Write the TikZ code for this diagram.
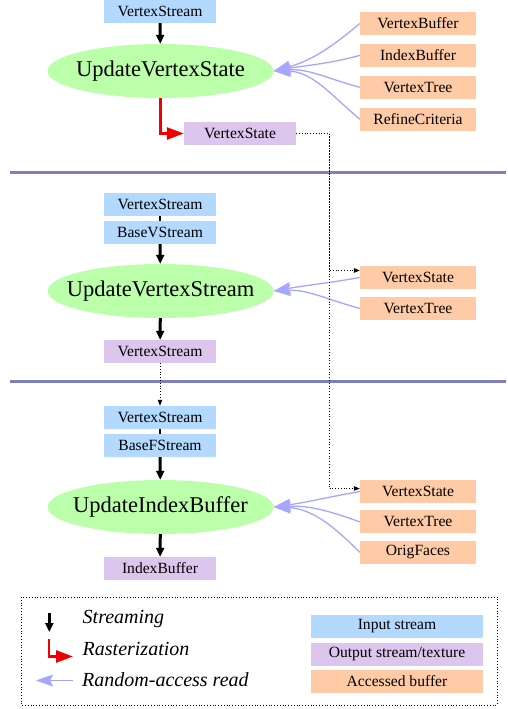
\documentclass[tikz,border=0pt]{standalone}
\usepackage{fontspec}
\setmainfont{Liberation Serif}
\usepackage{tikz}
\usetikzlibrary{arrows.meta, positioning, shapes.geometric}

\definecolor{inblue}{HTML}{B3D9FF}
\definecolor{outlilac}{HTML}{DDC6EE}
\definecolor{bufpeach}{HTML}{FFCBA6}
\definecolor{kgreen}{HTML}{BBFFAA}
\definecolor{sepblue}{HTML}{7F7FBF}
\definecolor{accblue}{HTML}{A6A6FF}
\definecolor{rasred}{HTML}{EE0000}

% kernel name, kept from widening the ellipse
\newcommand{\kname}[1]{\makebox[0pt]{#1}}

\begin{document}
\begin{tikzpicture}[
        x=1pt, y=1pt,
        node distance=8.5pt,
        every node/.style={inner sep=0pt, font=\fontsize{15.6}{18}\selectfont},
        box/.style={minimum width=112pt, minimum height=23pt},
        input/.style={box, fill=inblue},
        output/.style={box, fill=outlilac},
        buffer/.style={box, minimum width=116pt, fill=bufpeach},
        legbox/.style={box, minimum width=172pt},
        kernel/.style={ellipse, fill=kgreen, minimum width=226pt, minimum height=54pt, font=\fontsize{22.5}{26}\selectfont},
        legtext/.style={anchor=base west, font=\fontsize{20}{24}\selectfont\itshape},
        stream/.style={-{Triangle[length=9pt,width=8pt]}, line width=3pt},
        stack/.style={line width=2pt},
        raster/.style={-{Triangle[length=17pt,width=12pt]}, line width=2.5pt, rasred},
        access/.style={-{Stealth[length=17pt,width=12pt,inset=3pt]}, line width=1.3pt, accblue},
        link/.style={-{Triangle[length=6pt,width=4.5pt]}, dotted, line width=0.8pt},
        sep/.style={line width=3pt, sepblue}
    ]
    \useasboundingbox (0,0) rectangle (508,-709);

    % UpdateVertexState
    \node[input] (VSin1) at (160,-11.5) {VertexStream};
    \node[kernel] (UpdVState) at (160.5,-71) {\kname{UpdateVertexState}};
    \node[output] (VState1) at (240,-133.5) {VertexState};
    \node[buffer] (VBuf) at (418,-23.5) {VertexBuffer};
    \node[buffer] (IBuf) [below=of VBuf] {IndexBuffer};
    \node[buffer] (VTree1) [below=of IBuf] {VertexTree};
    \node[buffer] (Refine) [below=of VTree1] {RefineCriteria};

    \draw[stream] (VSin1) -- (UpdVState);
    \draw[raster] (UpdVState.south) |- (VState1.west);
    \draw[access] (VBuf.west) to[out=220, in=15] (UpdVState.east);
    \draw[access] (IBuf.west) to[out=195, in=10] (UpdVState.east);
    \draw[access] (VTree1.west) to[out=165, in=5] (UpdVState.east);
    \draw[access] (Refine.west) to[out=140, in=0] (UpdVState.east);

    \draw[sep] (10,-172) -- (506,-172);

    % UpdateVertexStream
    \node[input] (VSin2) at (160,-204.5) {VertexStream};
    \node[input] (BaseV) [below=4.5pt of VSin2] {BaseVStream};
    \node[kernel] (UpdVStream) at (160.5,-291) {\kname{UpdateVertexStream}};
    \node[output] (VSout2) at (160,-351.5) {VertexStream};
    \node[buffer] (VState2) at (418,-277.5) {VertexState};
    \node[buffer] (VTree2) [below=7.5pt of VState2] {VertexTree};

    \draw[stack] (VSin2) -- (BaseV);
    \draw[stream] (BaseV) -- (UpdVStream);
    \draw[stream] (UpdVStream) -- (VSout2);
    \draw[access] (VState2.west) to[out=190, in=10] (UpdVStream.east);
    \draw[access] (VTree2.west) to[out=165, in=3] (UpdVStream.east);

    \draw[sep] (10,-381) -- (506,-381);

    % UpdateIndexBuffer
    \node[input] (VSin3) at (160,-417.5) {VertexStream};
    \node[input] (BaseF) [below=4.5pt of VSin3] {BaseFStream};
    \node[kernel] (UpdIBuf) at (160.5,-507) {\kname{UpdateIndexBuffer}};
    \node[output] (IBufOut) at (160,-568.5) {IndexBuffer};
    \node[buffer] (VState3) at (418,-491.5) {VertexState};
    \node[buffer] (VTree3) [below=7pt of VState3] {VertexTree};
    \node[buffer] (OrigF) [below=7pt of VTree3] {OrigFaces};

    \draw[stack] (VSin3) -- (BaseF);
    \draw[stream] (BaseF) -- (UpdIBuf);
    \draw[stream] (UpdIBuf) -- (IBufOut);
    \draw[access] (VState3.west) to[out=190, in=8] (UpdIBuf.east);
    \draw[access] (VTree3.west) to[out=160, in=3] (UpdIBuf.east);
    \draw[access] (OrigF.west) to[out=135, in=-2] (UpdIBuf.east);

    % VertexState passed on
    \coordinate (Turn) at (329,-133.5);
    \draw[link] (VState1.east) -- (Turn) |- ([yshift=7pt]VState2.west);
    \draw[link] (Turn) |- ([yshift=3pt]VState3.west);
    \draw[link] (VSout2) -- (VSin3);

    % legend
    \draw[dotted, line width=0.8pt] (21,-597) rectangle (497,-705);
    \node[legtext] (LStream) at (82.5,-623.5) {Streaming};
    \node[legtext] (LRaster) at (82.5,-655.5) {Rasterization};
    \node[legtext] (LAccess) at (82,-686.5) {Random-access read};
    \coordinate (LS1) at (49.3,-613);
    \coordinate (LS2) at (49.3,-632);
    \coordinate (LR1) at (49,-639);
    \coordinate (LR2) at (73,-656.5);
    \coordinate (LA1) at (73,-680.5);
    \coordinate (LA2) at (36,-680.5);
    \draw[stream] (LS1) -- (LS2);
    \draw[raster] (LR1) |- (LR2);
    \draw[access] (LA1) -- (LA2);
    \node[legbox, fill=inblue] (LIn) at (397,-626.5) {Input stream};
    \node[legbox, fill=outlilac] (LOut) at (397,-654) {Output stream/texture};
    \node[legbox, fill=bufpeach] (LBuf) at (397,-681.5) {Accessed buffer};

    \end{tikzpicture}
\end{document}
